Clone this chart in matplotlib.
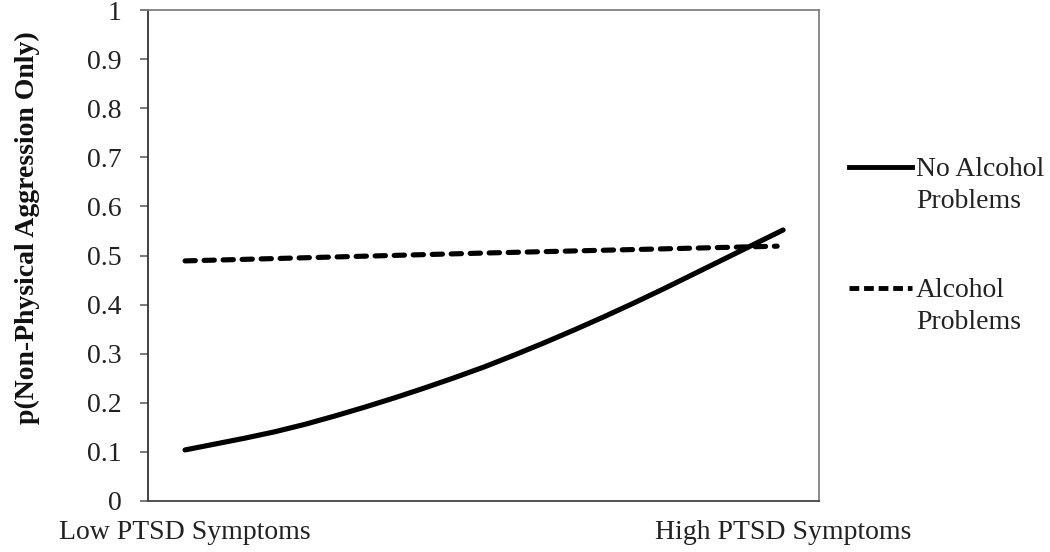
import numpy as np
import matplotlib
matplotlib.use("Agg")
import matplotlib.pyplot as plt
from matplotlib.lines import Line2D

plt.rcParams['font.family'] = ['Liberation Serif', 'DejaVu Serif']

# PTSD symptom level, 0 = low, 1 = high
ptsd = [0.0, 0.05, 0.1, 0.15, 0.2, 0.25, 0.3, 0.35, 0.4, 0.45, 0.5,
        0.55, 0.6, 0.65, 0.7, 0.75, 0.8, 0.85, 0.9, 0.95, 1.0]
no_alcohol = [0.104, 0.116, 0.128, 0.141, 0.156, 0.173, 0.191, 0.210, 0.230,
              0.251, 0.273, 0.297, 0.322, 0.348, 0.375, 0.403, 0.432, 0.462,
              0.492, 0.522, 0.552]
ptsd_alc = [0.0, 0.5, 0.99]
alcohol = [0.489, 0.505, 0.519]

xtick_pos = [0, 1]
xtick_labels = ['Low PTSD Symptoms', 'High PTSD Symptoms']
yticks = np.arange(0, 11) / 10
ytick_labels = ['0', '0.1', '0.2', '0.3', '0.4', '0.5', '0.6', '0.7', '0.8', '0.9', '1']
series_names = ['No Alcohol\nProblems', 'Alcohol\nProblems']

W, H = 1050, 552
fig = plt.figure(figsize=(W / 100, H / 100), dpi=100)
ax = fig.add_axes([148 / W, 51 / H, 671 / W, 491 / H])

lw = 3.7
ax.plot(ptsd, no_alcohol, color='black', lw=lw, solid_capstyle='round',
        solid_joinstyle='round')
ax.plot(ptsd_alc, alcohol, color='black', lw=lw, dashes=(2.0, 1.7),
        dash_capstyle='round')

ax.set_xlim(-0.062, 1.06)
ax.set_ylim(0, 1)
ax.set_xticks(xtick_pos)
ax.set_xticklabels(xtick_labels, fontsize=20)
ax.tick_params(axis='x', length=0, pad=14, labelcolor='#222222')
ax.set_yticks(yticks)
ax.set_yticklabels(ytick_labels, fontsize=20)
ax.tick_params(axis='y', length=6, width=1.1, pad=13, color='#555555',
               labelcolor='#222222')

ax.spines['left'].set_color('#333333')
ax.spines['bottom'].set_color('#444444')
ax.spines['top'].set_color('#808080')
ax.spines['right'].set_color('#808080')
for s in ax.spines.values():
    s.set_linewidth(1.3)

ax.set_ylabel('p(Non-Physical Aggression Only)', fontsize=20,
              fontweight='bold', color='#111111')
ax.yaxis.set_label_coords((40 - 148) / 671, (501 - 228) / 491)

# legend drawn by hand so the key sits on the first text line
legend_y = [167, 288]
styles = [dict(), dict(dashes=(2.0, 1.0))]
for name, yy, st in zip(series_names, legend_y, styles):
    yf = 1 - yy / H
    fig.add_artist(Line2D([849 / W, 912 / W], [yf, yf], color='black',
                          lw=3.5, **st))
    for i, line in enumerate(name.split('\n')):
        base = yy + 9 + 32 * i
        fig.text(916 / W, 1 - base / H, line, fontsize=20, va='baseline',
                 ha='left', color='#222222')

fig.savefig('out.png', dpi=100)
